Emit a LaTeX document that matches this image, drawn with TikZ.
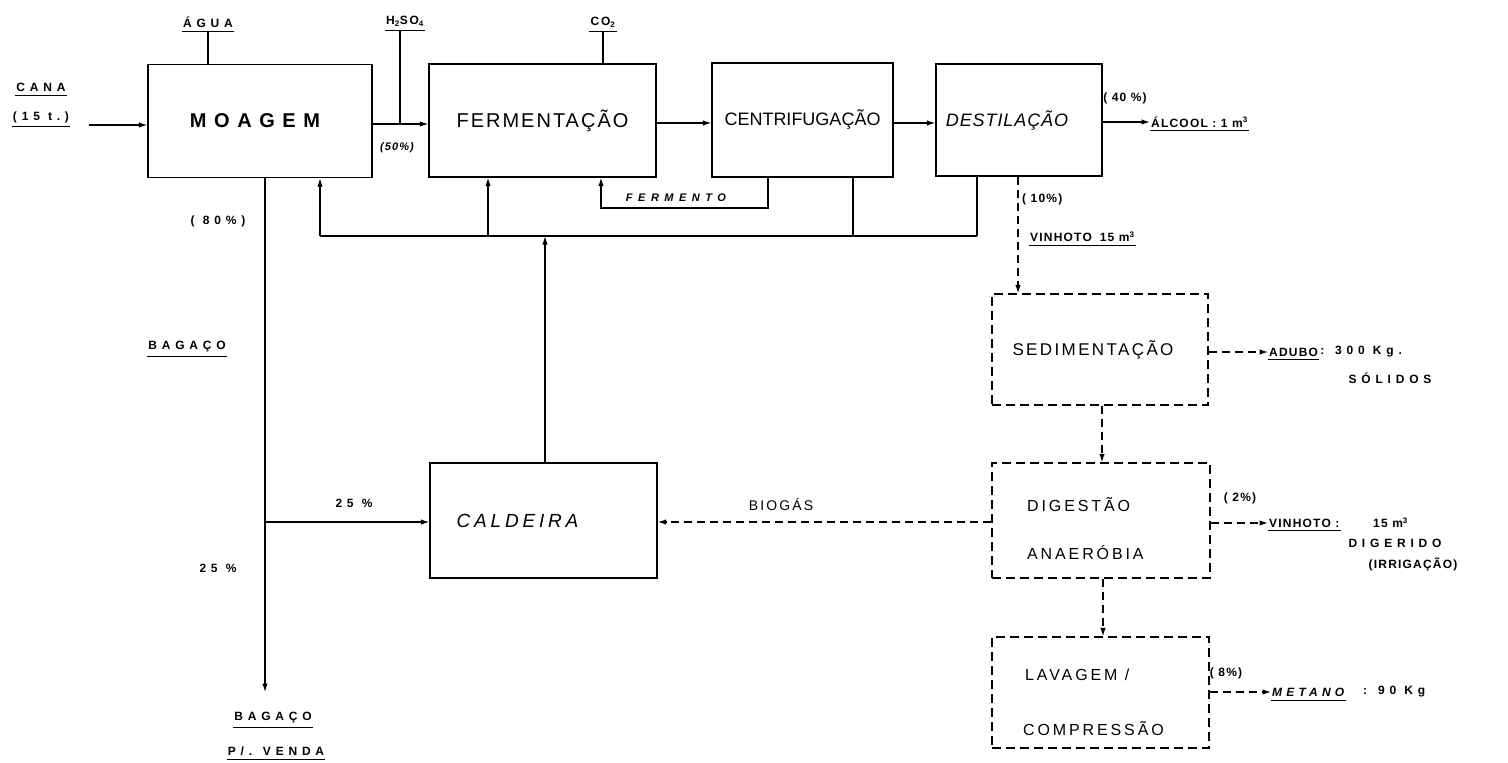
\documentclass[tikz,border=0pt]{standalone}
\usepackage{fontspec}
\setmainfont{Liberation Sans}
\usetikzlibrary{arrows.meta}
\begin{document}
\begin{tikzpicture}[x=1pt,y=-1pt,
  ln/.style={line width=1.3pt},
  arr/.style={ln,-{Latex[length=8.5pt,width=5.5pt]}},
  dl/.style={ln,dash pattern=on 8pt off 5pt},
  darr/.style={dl,-{Latex[length=8.5pt,width=5.5pt]}},
  ul/.style={line width=1pt},
  box/.style={draw,line width=1.3pt,inner sep=0pt},
  dbox/.style={box,dash pattern=on 9pt off 5pt},
  lab/.style={font=\bfseries\fontsize{12}{14}\selectfont\addfontfeature{LetterSpace=40},inner sep=1pt},
  labn/.style={font=\bfseries\fontsize{12}{14}\selectfont\addfontfeature{LetterSpace=10},inner sep=1pt},
  boxt/.style={font=\fontsize{16}{19}\selectfont\addfontfeature{LetterSpace=18},inner sep=0pt,anchor=west},
]
\useasboundingbox (0,0) rectangle (1508,763);

% ---------- process boxes ----------
\node[box,minimum width=224pt,minimum height=113pt,font=\bfseries\fontsize{20}{24}\selectfont\addfontfeature{LetterSpace=38}] (moa) at (260,121) {MOAGEM\hspace*{10pt}};
\node[box,minimum width=227pt,minimum height=113pt,font=\fontsize{20}{24}\selectfont\addfontfeature{LetterSpace=10}] (fer) at (542.5,120.5) {FERMENTAÇÃO};
\node[box,minimum width=181pt,minimum height=114pt,font=\fontsize{18}{22}\selectfont] (cen) at (802.5,120) {CENTRIFUGAÇÃO};
\node[box,minimum width=166pt,minimum height=112pt,font=\itshape\fontsize{18}{22}\selectfont\addfontfeature{LetterSpace=5}] (des) at (1019,120) {DESTILAÇÃO\hspace*{24pt}};
\node[box,minimum width=227pt,minimum height=115pt,font=\itshape\fontsize{19}{23}\selectfont\addfontfeature{LetterSpace=20}] (cal) at (543.5,520.5) {CALDEIRA\hspace*{52pt}};

\node[dbox,minimum width=216pt,minimum height=111pt,font=\fontsize{17}{20}\selectfont\addfontfeature{LetterSpace=14}] (sed) at (1100,349.5) {SEDIMENTAÇÃO\hspace*{14pt}};
\node[dbox,minimum width=218pt,minimum height=115pt] (dig) at (1101,520.5) {};
\node[boxt] (dig1) at (1027,505) {DIGESTÃO};
\node[boxt] (dig2) at (1027,553) {ANAERÓBIA};
\node[dbox,minimum width=217pt,minimum height=111pt] (lav) at (1100.5,692.5) {};
\node[boxt] (lav1) at (1025,675) {LAVAGEM /};
\node[boxt] (lav2) at (1023,729) {COMPRESSÃO};

% ---------- labels ----------
\node[lab] (cana) at (41,87) {CANA};
\draw[ul] ([yshift=-3pt]cana.south west) -- ([yshift=-3pt]cana.south east);
\node[lab] (cana2) at (41,117) {(15 t.)};
\draw[ul] ([yshift=-3pt]cana2.south west) -- ([yshift=-3pt]cana2.south east);

\node[lab] (agua) at (208,22) {ÁGUA};
\draw[ul] ([yshift=-3pt]agua.south west) -- ([yshift=-3pt]agua.south east);
\node[lab,font=\bfseries\fontsize{12}{14}\selectfont\addfontfeature{LetterSpace=15}] (hso) at (405,21) {H\textsubscript{2}SO\textsubscript{4}};
\draw[ul] ([yshift=-3pt]hso.south west) -- ([yshift=-3pt]hso.south east);
\node[lab,font=\bfseries\fontsize{12}{14}\selectfont\addfontfeature{LetterSpace=15}] (co2) at (603,22) {CO\textsubscript{2}};
\draw[ul] ([yshift=-3pt]co2.south west) -- ([yshift=-3pt]co2.south east);

\node[lab,font=\bfseries\itshape\fontsize{11}{13}\selectfont\addfontfeature{LetterSpace=10}] (p50) at (397,148) {(50\%)};
\node[lab] (p80) at (218,221) {( 80\%)};
\node[lab,font=\bfseries\itshape\fontsize{11}{13}\selectfont\addfontfeature{LetterSpace=50}] (ferm) at (676,198) {FERMENTO};
\node[labn] (p40) at (1125,98) {( 40 \%)};
\node[labn,anchor=west] (alc) at (1150,122) {ÁLCOOL : 1 m\textsuperscript{3}};
\draw[ul] ([yshift=-2pt]alc.south west) -- ([yshift=-2pt]alc.south east);
\node[labn,anchor=west] (p10) at (1021,199) {( 10\%)};
\node[labn,anchor=west] (vin) at (1029,237) {VINHOTO\hspace*{8pt}15 m\textsuperscript{3}};
\draw[ul] ([yshift=-2pt]vin.south west) -- ([yshift=-2pt]vin.south east);

\node[lab] (bag) at (187,347) {BAGAÇO};
\draw[ul] ([yshift=-3pt]bag.south west) -- ([yshift=-3pt]bag.south east);
\node[lab] (p25a) at (354,503) {25 \%};
\node[lab] (p25b) at (218,568) {25 \%};
\node[lab] (bagv) at (273,718) {BAGAÇO};
\draw[ul] ([yshift=-3pt]bagv.south west) -- ([yshift=-3pt]bagv.south east);
\node[lab] (venda) at (276,751) {P/. VENDA};
\draw[ul] ([yshift=-3pt]venda.south west) -- ([yshift=-3pt]venda.south east);

\node[font=\fontsize{14}{16}\selectfont\addfontfeature{LetterSpace=15},inner sep=1pt] (bio) at (781,504) {BIOGÁS};

\node[labn,anchor=west] (adubo) at (1268,352) {ADUBO};
\draw[ul] ([yshift=-2pt]adubo.south west) -- ([yshift=-2pt]adubo.south east);
\node[lab,anchor=west] (adubo2) at (adubo.east) {: 300 Kg.};
\node[lab] (sol) at (1390,378) {SÓLIDOS};

\node[labn] (p2) at (1240,498) {( 2\%)};
\node[labn,anchor=west] (vin2) at (1268,523) {VINHOTO :};
\draw[ul] ([yshift=-2pt]vin2.south west) -- ([yshift=-2pt]vin2.south east);
\node[labn,anchor=west] (vin3) at (1372,523) {15 m\textsuperscript{3}};
\node[lab] (dige) at (1395,543) {DIGERIDO};
\node[labn] (irr) at (1413,564) {(IRRIGAÇÃO)};

\node[labn] (p8) at (1226,673) {( 8\%)};
\node[lab,font=\bfseries\itshape\fontsize{12}{14}\selectfont\addfontfeature{LetterSpace=35},anchor=west] (met) at (1271,692) {METANO};
\draw[ul] ([yshift=-3pt]met.south west) -- ([yshift=-3pt]met.south east);
\node[lab,anchor=west] (met2) at (1362,692) {: 90 Kg};

% ---------- connectors (solid) ----------
\coordinate (c0) at (89,125);
\draw[arr] (c0) -- (c0 -| moa.west);
\draw[ln] ([yshift=-3pt]agua.south) -- (agua.south |- moa.north);
\coordinate (hj) at (400,124);
\draw[ln] ([yshift=-3pt]hso.south -| hj) -- (hj);
\draw[arr] (moa.east |- hj) -- (fer.west |- hj);
\draw[ln] ([yshift=-3pt]co2.south) -- (co2.south |- fer.north);
\draw[arr] ([yshift=-2.5pt]fer.east) -- ([yshift=-2.5pt]fer.east -| cen.west);
\draw[arr] ([yshift=-3pt]cen.east) -- ([yshift=-3pt]cen.east -| des.west);
\draw[arr] ([yshift=-2pt]des.east) -- ([yshift=-2pt]des.east -| alc.west);

% steam header
\coordinate (h1) at (320,236);
\coordinate (h2) at (977,236);
\coordinate (hf) at (488,236);
\coordinate (hc) at (853,236);
\coordinate (hk) at (545,236);
\draw[ln] (h1) -- (h2);
\draw[arr] (h1) -- (h1 |- moa.south);
\draw[arr] (hf) -- (hf |- fer.south);
\draw[ln] (hc) -- (hc |- cen.south);
\draw[ln] (h2) -- (h2 |- des.south);
\draw[arr] (hk |- cal.north) -- (hk);

% fermento loop
\coordinate (f1) at (601,208);
\coordinate (f2) at (768,208);
\draw[arr] (f2 |- cen.south) -- (f2) -- (f1) -- (f1 |- fer.south);

% bagaco
\coordinate (b1) at (265,522);
\coordinate (b2) at (265,692);
\draw[arr] (b1 |- moa.south) -- (b2);
\draw[arr] (b1) -- (b1 -| cal.west);

% ---------- connectors (dashed) ----------
\draw[darr] (dig.west |- b1) -- (cal.east |- b1);
\coordinate (d1) at (1018,300);
\draw[darr] (des.south -| d1) -- (sed.north -| d1);
\coordinate (s1) at (1102,430);
\draw[darr] (sed.south -| s1) -- (dig.north -| s1);
\coordinate (s2) at (1103,600);
\draw[darr] (dig.south -| s2) -- (lav.north -| s2);
\draw[darr] (sed.east |- adubo.west) -- (adubo.west);
\draw[darr] (dig.east |- vin2.west) -- (vin2.west);
\draw[darr] (lav.east |- met.west) -- (met.west);
\end{tikzpicture}
\end{document}
